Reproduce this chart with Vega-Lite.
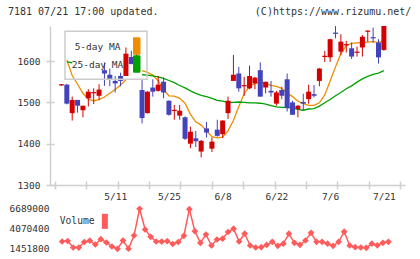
{
  "$schema": "https://vega.github.io/schema/vega-lite/v6.json",
  "padding": {"left": 8, "top": 6, "right": 0, "bottom": 0},
  "background": "white",
  "spacing": 2.5,
  "config": {
    "view": {"stroke": null},
    "font": "DejaVu Sans Mono",
    "axis": {"labelFont": "DejaVu Sans Mono", "labelFontSize": 9.5, "labelColor": "#333333", "domainColor": "#cfcfcf", "tickColor": "#cfcfcf", "domainWidth": 1.5, "tickWidth": 1.5, "grid": false, "title": null},
    "legend": {"labelFont": "DejaVu Sans Mono"}
  },
  "datasets": {
    "k": [
      {"i":0,"o":1541,"h":1544,"l":1540,"c":1544},{"i":1,"o":1543,"h":1545,"l":1495,"c":1497},{"i":2,"o":1474,"h":1514,"l":1456,"c":1506},{"i":3,"o":1506,"h":1506,"l":1475,"c":1492},{"i":4,"o":1481,"h":1492,"l":1464,"c":1492},
      {"i":5,"o":1510,"h":1532,"l":1490,"c":1526},{"i":6,"o":1522,"h":1534,"l":1496,"c":1525},{"i":7,"o":1516,"h":1544,"l":1506,"c":1531},{"i":8,"o":1578,"h":1597,"l":1540,"c":1570},{"i":9,"o":1567,"h":1582,"l":1539,"c":1556},
      {"i":10,"o":1552,"h":1564,"l":1524,"c":1546},{"i":11,"o":1564,"h":1572,"l":1539,"c":1552},{"i":12,"o":1564,"h":1633,"l":1564,"c":1618},{"i":13,"o":1610,"h":1625,"l":1592,"c":1593},{"i":14,"o":1617,"h":1655,"l":1600,"c":1649},
      {"i":15,"o":1530,"h":1554,"l":1449,"c":1462},{"i":16,"o":1474,"h":1527,"l":1473,"c":1526},{"i":17,"o":1536,"h":1556,"l":1514,"c":1526},{"i":18,"o":1528,"h":1564,"l":1526,"c":1543},{"i":19,"o":1550,"h":1560,"l":1510,"c":1524},
      {"i":20,"o":1504,"h":1505,"l":1468,"c":1470},{"i":21,"o":1479,"h":1494,"l":1458,"c":1482},{"i":22,"o":1468,"h":1494,"l":1458,"c":1480},{"i":23,"o":1464,"h":1466,"l":1409,"c":1412},{"i":24,"o":1400,"h":1441,"l":1389,"c":1429},
      {"i":25,"o":1413,"h":1431,"l":1392,"c":1406},{"i":26,"o":1381,"h":1409,"l":1367,"c":1407},{"i":27,"o":1437,"h":1453,"l":1415,"c":1427},{"i":28,"o":1388,"h":1415,"l":1380,"c":1405},{"i":29,"o":1434,"h":1458,"l":1417,"c":1419},
      {"i":30,"o":1423,"h":1457,"l":1414,"c":1456},{"i":31,"o":1474,"h":1514,"l":1460,"c":1504},{"i":32,"o":1552,"h":1615,"l":1552,"c":1567},{"i":33,"o":1570,"h":1586,"l":1526,"c":1534},{"i":34,"o":1539,"h":1562,"l":1516,"c":1542},
      {"i":35,"o":1534,"h":1589,"l":1532,"c":1564},{"i":36,"o":1546,"h":1562,"l":1532,"c":1560},{"i":37,"o":1578,"h":1597,"l":1514,"c":1514},{"i":38,"o":1536,"h":1550,"l":1522,"c":1550},{"i":39,"o":1528,"h":1552,"l":1514,"c":1524},
      {"i":40,"o":1497,"h":1528,"l":1492,"c":1524},{"i":41,"o":1530,"h":1538,"l":1508,"c":1516},{"i":42,"o":1556,"h":1570,"l":1478,"c":1486},{"i":43,"o":1500,"h":1504,"l":1470,"c":1470},{"i":44,"o":1484,"h":1494,"l":1464,"c":1492},
      {"i":45,"o":1501,"h":1521,"l":1481,"c":1497},{"i":46,"o":1508,"h":1543,"l":1497,"c":1526},{"i":47,"o":1520,"h":1542,"l":1512,"c":1516},{"i":48,"o":1552,"h":1583,"l":1539,"c":1582},{"i":49,"o":1610,"h":1625,"l":1598,"c":1613},
      {"i":50,"o":1609,"h":1654,"l":1598,"c":1653},{"i":51,"o":1669,"h":1685,"l":1655,"c":1666},{"i":52,"o":1623,"h":1665,"l":1615,"c":1647},{"i":53,"o":1638,"h":1649,"l":1621,"c":1641},{"i":54,"o":1631,"h":1645,"l":1605,"c":1611},
      {"i":55,"o":1620,"h":1635,"l":1611,"c":1623},{"i":56,"o":1633,"h":1663,"l":1611,"c":1659},{"i":57,"o":1671,"h":1674,"l":1647,"c":1674},{"i":58,"o":1658,"h":1681,"l":1645,"c":1655},{"i":59,"o":1645,"h":1653,"l":1594,"c":1609},
      {"i":60,"o":1627,"h":1685,"l":1625,"c":1685}
    ],
    "ma": [
      {"i":1,"s":"5-day MA","m":1603},{"i":2,"s":"5-day MA","m":1565},{"i":3,"s":"5-day MA","m":1544},{"i":4,"s":"5-day MA","m":1522},{"i":5,"s":"5-day MA","m":1508},
      {"i":6,"s":"5-day MA","m":1504},{"i":7,"s":"5-day MA","m":1507},{"i":8,"s":"5-day MA","m":1513},{"i":9,"s":"5-day MA","m":1522},{"i":10,"s":"5-day MA","m":1531},
      {"i":11,"s":"5-day MA","m":1542},{"i":12,"s":"5-day MA","m":1555},{"i":13,"s":"5-day MA","m":null},{"i":15,"s":"5-day MA","m":1577},
      {"i":16,"s":"5-day MA","m":1573},{"i":17,"s":"5-day MA","m":1566},{"i":18,"s":"5-day MA","m":1552},{"i":19,"s":"5-day MA","m":1531},{"i":20,"s":"5-day MA","m":1516},
      {"i":21,"s":"5-day MA","m":1515},{"i":22,"s":"5-day MA","m":1510},{"i":23,"s":"5-day MA","m":1498},{"i":24,"s":"5-day MA","m":1471},{"i":25,"s":"5-day MA","m":1453},
      {"i":26,"s":"5-day MA","m":1445},{"i":27,"s":"5-day MA","m":1431},{"i":28,"s":"5-day MA","m":1417},{"i":29,"s":"5-day MA","m":1414},{"i":30,"s":"5-day MA","m":1416},
      {"i":31,"s":"5-day MA","m":1431},{"i":32,"s":"5-day MA","m":1456},{"i":33,"s":"5-day MA","m":1490},{"i":34,"s":"5-day MA","m":1521},{"i":35,"s":"5-day MA","m":1539},
      {"i":36,"s":"5-day MA","m":1546},{"i":37,"s":"5-day MA","m":1549},{"i":38,"s":"5-day MA","m":1545},{"i":39,"s":"5-day MA","m":1541},{"i":40,"s":"5-day MA","m":1539},
      {"i":41,"s":"5-day MA","m":1534},{"i":42,"s":"5-day MA","m":1523},{"i":43,"s":"5-day MA","m":1514},{"i":44,"s":"5-day MA","m":1503},{"i":45,"s":"5-day MA","m":1497},
      {"i":46,"s":"5-day MA","m":1493},{"i":47,"s":"5-day MA","m":1493},{"i":48,"s":"5-day MA","m":1499},{"i":49,"s":"5-day MA","m":1518},{"i":50,"s":"5-day MA","m":1552},
      {"i":51,"s":"5-day MA","m":1586},{"i":52,"s":"5-day MA","m":1618},{"i":53,"s":"5-day MA","m":1638},{"i":54,"s":"5-day MA","m":1643},{"i":55,"s":"5-day MA","m":1644},
      {"i":56,"s":"5-day MA","m":1645},{"i":57,"s":"5-day MA","m":1646},{"i":58,"s":"5-day MA","m":1647},{"i":59,"s":"5-day MA","m":1645},{"i":60,"s":"5-day MA","m":1650},
      {"i":1,"s":"25-day MA","m":1598},{"i":2,"s":"25-day MA","m":1596},{"i":3,"s":"25-day MA","m":null},{"i":15,"s":"25-day MA","m":1567},
      {"i":16,"s":"25-day MA","m":1566},{"i":17,"s":"25-day MA","m":1564},{"i":18,"s":"25-day MA","m":1562},{"i":19,"s":"25-day MA","m":1558},{"i":20,"s":"25-day MA","m":1553},
      {"i":21,"s":"25-day MA","m":1548},{"i":22,"s":"25-day MA","m":1541},{"i":23,"s":"25-day MA","m":1535},{"i":24,"s":"25-day MA","m":1528},{"i":25,"s":"25-day MA","m":1522},
      {"i":26,"s":"25-day MA","m":1517},{"i":27,"s":"25-day MA","m":1514},{"i":28,"s":"25-day MA","m":1510},{"i":29,"s":"25-day MA","m":1505},{"i":30,"s":"25-day MA","m":1503},
      {"i":31,"s":"25-day MA","m":1500},{"i":32,"s":"25-day MA","m":1500},{"i":33,"s":"25-day MA","m":1501},{"i":34,"s":"25-day MA","m":1500},{"i":35,"s":"25-day MA","m":1499},
      {"i":36,"s":"25-day MA","m":1499},{"i":37,"s":"25-day MA","m":1498},{"i":38,"s":"25-day MA","m":1496},{"i":39,"s":"25-day MA","m":1492},{"i":40,"s":"25-day MA","m":1489},
      {"i":41,"s":"25-day MA","m":1488},{"i":42,"s":"25-day MA","m":1488},{"i":43,"s":"25-day MA","m":1486},{"i":44,"s":"25-day MA","m":1483},{"i":45,"s":"25-day MA","m":1481},
      {"i":46,"s":"25-day MA","m":1484},{"i":47,"s":"25-day MA","m":1485},{"i":48,"s":"25-day MA","m":1491},{"i":49,"s":"25-day MA","m":1499},{"i":50,"s":"25-day MA","m":1507},
      {"i":51,"s":"25-day MA","m":1516},{"i":52,"s":"25-day MA","m":1524},{"i":53,"s":"25-day MA","m":1533},{"i":54,"s":"25-day MA","m":1540},{"i":55,"s":"25-day MA","m":1549},
      {"i":56,"s":"25-day MA","m":1557},{"i":57,"s":"25-day MA","m":1563},{"i":58,"s":"25-day MA","m":1568},{"i":59,"s":"25-day MA","m":1571},{"i":60,"s":"25-day MA","m":1577}
    ],
    "vol": [
      {"i":1,"v":2408000},{"i":2,"v":2473000},{"i":3,"v":1622000},{"i":4,"v":1610000},{"i":5,"v":2342000},{"i":6,"v":2512000},{"i":7,"v":2015000},{"i":8,"v":2709000},{"i":9,"v":2277000},{"i":10,"v":1753000},
      {"i":11,"v":1451800},{"i":12,"v":2539000},{"i":13,"v":1465000},{"i":14,"v":3193000},{"i":15,"v":6689000},{"i":16,"v":3979000},{"i":17,"v":3023000},{"i":18,"v":2408000},{"i":19,"v":2395000},{"i":20,"v":2447000},
      {"i":21,"v":2080000},{"i":22,"v":2342000},{"i":23,"v":3154000},{"i":24,"v":6640000},{"i":25,"v":3756000},{"i":26,"v":2237000},{"i":27,"v":3324000},{"i":28,"v":1884000},{"i":29,"v":2669000},{"i":30,"v":2774000},
      {"i":31,"v":3651000},{"i":32,"v":4083000},{"i":33,"v":2408000},{"i":34,"v":3429000},{"i":35,"v":1884000},{"i":36,"v":1622000},{"i":37,"v":1661000},{"i":38,"v":1975000},{"i":39,"v":2368000},{"i":40,"v":1845000},
      {"i":41,"v":2120000},{"i":42,"v":3429000},{"i":43,"v":2237000},{"i":44,"v":1975000},{"i":45,"v":2539000},{"i":46,"v":3547000},{"i":47,"v":2368000},{"i":48,"v":2360000},{"i":49,"v":2120000},{"i":50,"v":1845000},
      {"i":51,"v":2368000},{"i":52,"v":3691000},{"i":53,"v":1884000},{"i":54,"v":1661000},{"i":55,"v":1622000},{"i":56,"v":1583000},{"i":57,"v":2120000},{"i":58,"v":1910000},{"i":59,"v":2237000},{"i":60,"v":2368000}
    ]
  },
  "vconcat": [
    {
      "title": {
        "text": "7181 07/21 17:00 updated.\u00a0\u00a0\u00a0\u00a0\u00a0\u00a0\u00a0\u00a0\u00a0\u00a0\u00a0\u00a0\u00a0\u00a0\u00a0\u00a0(C)https://www.rizumu.net/",
        "anchor": "start", "frame": "group", "dx": -42, "offset": 1, "baseline": "alphabetic",
        "font": "DejaVu Sans Mono", "fontSize": 10, "fontWeight": "normal", "color": "#333333"
      },
      "width": 355,
      "height": 159,
      "layer": [
        {
          "data": {"name": "ma"},
          "mark": {"type": "line", "strokeWidth": 1.3},
          "encoding": {
            "x": {"field": "i", "type": "quantitative", "scale": {"domain": [-1.2, 63], "nice": false, "zero": false},
                  "axis": {"orient": "bottom", "values": [-1.2, 4.636, 10.473, 16.309, 22.145, 27.982, 33.818, 39.655, 45.491, 51.327, 57.164, 63], "labels": false, "domain": false, "tickSize": 8, "offset": -4}},
            "y": {"field": "m", "type": "quantitative", "scale": {"domain": [1300, 1685], "nice": false, "zero": false},
                  "axis": {"orient": "left", "values": [1300, 1400, 1500, 1600], "format": "d", "domain": false, "tickSize": 8, "offset": -4, "labelPadding": 6}},
            "color": {"field": "s", "type": "nominal",
              "scale": {"domain": ["5-day MA", "25-day MA"], "range": ["#f08c00", "#00a000"]},
              "legend": {
                "orient": "none", "legendX": 15, "legendY": 5.3, "title": null, "direction": "vertical",
                "symbolType": "M19.33,-1.333H21.33V4H19.33Z", "symbolSize": 36,
                "labelOffset": 17, "labelAlign": "center", "labelFontSize": 9.5, "labelColor": "#333333",
                "padding": 6, "rowPadding": -2.5, "fillColor": "transparent", "strokeColor": "#cccccc",
                "encode": {
                  "symbols": {"update": {"fill": {"signal": "datum.value === '5-day MA' ? '#f08c00' : '#00a000'"}, "stroke": {"value": "#444444"}, "strokeWidth": {"value": 1.5}, "strokeJoin": {"value": "bevel"}, "opacity": {"value": 1}}},
                  "labels": {"update": {"dy": {"value": 4.5}}},
                  "legend": {"update": {"strokeWidth": {"value": 1.5}}}
                }
              }
            }
          }
        },
        {
          "data": {"name": "k"},
          "mark": {"type": "rule", "strokeWidth": 1},
          "encoding": {
            "x": {"field": "i", "type": "quantitative",
                  "axis": {"orient": "bottom", "values": [10, 20, 30, 40, 50, 60], "ticks": false, "domain": true, "labelPadding": 6.5, "labelFlush": false, "labelOverlap": false,
                           "labelExpr": "datum.value == 10 ? '5/11' : datum.value == 20 ? '5/25' : datum.value == 30 ? '6/8' : datum.value == 40 ? '6/22' : datum.value == 50 ? '7/6' : '7/21'"}},
            "y": {"field": "l", "type": "quantitative", "axis": {"orient": "left", "domain": true, "ticks": false, "labels": false}},
            "y2": {"field": "h"},
            "color": {"condition": {"test": "datum.c >= datum.o", "value": "#d40000"}, "value": "#4343bb"}
          }
        },
        {
          "data": {"name": "k"},
          "mark": {"type": "bar", "width": 5},
          "encoding": {
            "x": {"field": "i", "type": "quantitative", "axis": null},
            "y": {"field": "o", "type": "quantitative", "axis": null},
            "y2": {"field": "c"},
            "color": {"condition": {"test": "datum.c >= datum.o", "value": "#d40000"}, "value": "#4343bb"}
          }
        }
      ],
      "resolve": {"axis": {"x": "independent", "y": "independent"}}
    },
    {
      "width": 355,
      "height": 48,
      "data": {"name": "vol"},
      "encoding": {
        "x": {"field": "i", "type": "quantitative", "scale": {"domain": [-1.2, 63], "nice": false, "zero": false}, "axis": null},
        "y": {"field": "v", "type": "quantitative", "scale": {"domain": [967400, 7252000], "nice": false, "zero": false},
              "axis": {"values": [1451800, 4070400, 6689000], "format": "d", "domain": false, "ticks": false, "labelPadding": 1}}
      },
      "layer": [
        {"mark": {"type": "line", "color": "#ff5b5b", "strokeWidth": 1.5}},
        {
          "mark": {"type": "point", "shape": "diamond", "filled": true, "size": 45, "opacity": 1},
          "encoding": {
            "fill": {"datum": "Volume", "type": "nominal", "scale": {"range": ["#ff5b5b"]},
              "legend": {
                "orient": "none", "legendX": 0, "legendY": 190.5, "title": null, "padding": 0,
                "symbolType": "M15.67,-2.5H17.67V2.5H15.67Z", "symbolSize": 36, "labelOffset": 0,
                "labelFontSize": 9.7, "labelColor": "#333333",
                "encode": {"symbols": {"update": {"fill": {"value": "#ff5b5b"}, "stroke": {"value": "#444444"}, "strokeWidth": {"value": 1.5}, "opacity": {"value": 1}}}}
              }
            }
          }
        }
      ]
    }
  ]
}
